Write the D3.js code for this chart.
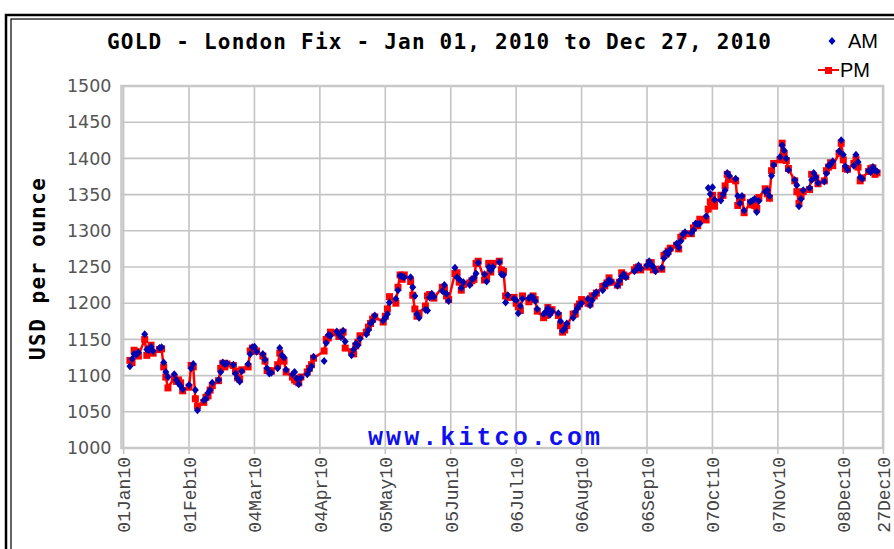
<!DOCTYPE html>
<html>
<head>
<meta charset="utf-8">
<script src="https://cdn.jsdelivr.net/npm/d3@7"></script>
<style>
    body { margin: 0; background: #fff; }
    svg { display: block; }
</style>
</head>
<body>
<script>
//gold fix data, trading days of 2010 (MM-DD)
var dates = [
    "01-04","01-05","01-06","01-07","01-08","01-11","01-12","01-13","01-14","01-15","01-18","01-19","01-20","01-21","01-22","01-25","01-26","01-27","01-28","01-29",
    "02-01","02-02","02-03","02-04","02-05","02-08","02-09","02-10","02-11","02-12","02-15","02-16","02-17","02-18","02-19","02-22","02-23","02-24","02-25","02-26",
    "03-01","03-02","03-03","03-04","03-05","03-08","03-09","03-10","03-11","03-12","03-15","03-16","03-17","03-18","03-19","03-22","03-23","03-24","03-25","03-26","03-29","03-30","03-31",
    "04-01","04-06","04-07","04-08","04-09","04-12","04-13","04-14","04-15","04-16","04-19","04-20","04-21","04-22","04-23","04-26","04-27","04-28","04-29","04-30",
    "05-04","05-05","05-06","05-07","05-10","05-11","05-12","05-13","05-14","05-17","05-18","05-19","05-20","05-21","05-24","05-25","05-26","05-27","05-28",
    "06-01","06-02","06-03","06-04","06-07","06-08","06-09","06-10","06-11","06-14","06-15","06-16","06-17","06-18","06-21","06-22","06-23","06-24","06-25","06-28","06-29","06-30",
    "07-01","07-02","07-05","07-06","07-07","07-08","07-09","07-12","07-13","07-14","07-15","07-16","07-19","07-20","07-21","07-22","07-23","07-26","07-27","07-28","07-29","07-30",
    "08-02","08-03","08-04","08-05","08-06","08-09","08-10","08-11","08-12","08-13","08-16","08-17","08-18","08-19","08-20","08-23","08-24","08-25","08-26","08-27","08-31",
    "09-01","09-02","09-03","09-06","09-07","09-08","09-09","09-10","09-13","09-14","09-15","09-16","09-17","09-20","09-21","09-22","09-23","09-24","09-27","09-28","09-29","09-30",
    "10-01","10-04","10-05","10-06","10-07","10-08","10-11","10-12","10-13","10-14","10-15","10-18","10-19","10-20","10-21","10-22","10-25","10-26","10-27","10-28","10-29",
    "11-01","11-02","11-03","11-04","11-05","11-08","11-09","11-10","11-11","11-12","11-15","11-16","11-17","11-18","11-19","11-22","11-23","11-24","11-25","11-26","11-29","11-30",
    "12-01","12-02","12-03","12-06","12-07","12-08","12-09","12-10","12-13","12-14","12-15","12-16","12-17","12-20","12-21","12-22","12-23","12-24"
];

var pmPrices = [
    1121,1118,1135,1133,1127,1150,1128,1137,1142,1131,1136,1137,1112,1098,1083,1097,1092,1094,1090,1079,
    1084,1114,1112,1068,1058,1063,1070,1072,1080,1086,1093,1110,1117,1112,1116,1114,1106,1097,1095,1108,
    1112,1134,1138,1134,1134,1127,1120,1107,1107,1106,1115,1131,1124,1120,1105,1098,1094,1092,1090,1098,1105,1110,1115,
    1124,1134,1150,1152,1160,1159,1154,1158,1160,1138,1133,1130,1141,1146,1155,1160,1167,1172,1178,1181,
    1174,1182,1192,1209,1200,1222,1239,1233,1239,1230,1211,1192,1182,1186,1196,1210,1212,1210,1207,
    1222,1220,1210,1205,1241,1242,1229,1218,1226,1228,1231,1233,1255,1258,1232,1234,1255,1243,1255,1258,1246,1244,
    1210,1208,1208,1200,1195,1190,1210,1202,1207,1210,1205,1189,1180,1183,1194,1188,1191,1183,1169,1160,1163,1169,
    1185,1185,1195,1199,1205,1200,1199,1210,1210,1214,1223,1224,1228,1235,1229,1225,1229,1242,1239,1237,1246,
    1249,1250,1246,1250,1256,1256,1246,1247,1247,1266,1268,1272,1276,1280,1275,1291,1293,1296,1296,1304,1307,1307,
    1316,1315,1330,1340,1349,1334,1349,1349,1362,1378,1371,1369,1335,1344,1346,1325,1339,1336,1335,1331,1346,
    1358,1351,1345,1383,1393,1398,1421,1406,1397,1386,1369,1354,1338,1348,1354,1357,1378,1375,1373,1365,1369,1383,
    1388,1394,1390,1407,1421,1398,1386,1385,1393,1399,1388,1369,1373,1382,1386,1387,1378,1380
];

var amPrices = [
    1113,1123,1130,1129,1132,1157,1136,1135,1140,1134,1138,1139,1118,1105,1098,1102,1094,1089,1086,1081,
    1087,1110,1116,1080,1052,1066,1068,1076,1080,1090,1094,1105,1118,1116,1117,1115,1103,1096,1092,1106,
    1116,1130,1139,1140,1133,1130,1122,1110,1103,1104,1110,1138,1128,1125,1108,1102,1105,1096,1088,1097,1102,1108,1113,
    1126,1120,1145,1156,1155,1161,1157,1153,1162,1147,1128,1136,1144,1142,1151,1157,1163,1172,1175,1183,
    1176,1180,1185,1201,1206,1218,1238,1237,1236,1236,1222,1210,1185,1180,1191,1190,1208,1213,1209,
    1217,1225,1213,1203,1249,1236,1233,1221,1229,1225,1233,1235,1241,1256,1240,1230,1250,1245,1250,1257,1240,1239,
    1201,1211,1206,1204,1186,1196,1206,1207,1209,1208,1203,1192,1185,1188,1193,1184,1189,1186,1175,1162,1165,1172,
    1180,1188,1193,1198,1200,1206,1197,1204,1212,1215,1218,1226,1227,1232,1230,1224,1231,1237,1240,1236,1244,
    1247,1252,1248,1252,1258,1253,1250,1244,1249,1262,1270,1268,1274,1282,1277,1286,1295,1298,1297,1301,1310,1309,
    1310,1320,1359,1351,1360,1343,1342,1350,1356,1380,1376,1372,1348,1338,1348,1328,1340,1342,1344,1326,1341,
    1354,1356,1348,1376,1391,1402,1418,1411,1400,1384,1370,1363,1334,1344,1356,1359,1370,1380,1374,1366,1368,1379,
    1390,1392,1396,1410,1425,1405,1389,1384,1390,1405,1395,1374,1372,1383,1381,1388,1384,1382
];

var yTicks = [1000, 1050, 1100, 1150, 1200, 1250, 1300, 1350, 1400, 1450, 1500];
var xTickDates = ["2010-01-01","2010-02-01","2010-03-04","2010-04-04","2010-05-05","2010-06-05",
                  "2010-07-06","2010-08-06","2010-09-06","2010-10-07","2010-11-07","2010-12-08","2010-12-27"];

var width = 894,
    height = 549;

var svg = d3.select("body")
    .append("svg")
    .attr("width", width)
    .attr("height", height);

var parseDay = d3.timeParse("%Y-%m-%d"),
    tickFmt = d3.timeFormat("%d%b%y");

var data = dates.map(function(d, i){
    return {date: parseDay("2010-" + d), am: amPrices[i], pm: pmPrices[i]};
});

//scales
var x = d3.scaleTime()
    .domain([parseDay("2010-01-01"), parseDay("2010-12-27")])
    .range([123.6, 883.4]);

var y = d3.scaleLinear()
    .domain([1000, 1500])
    .range([448, 86]);

var plotLeft = 121.5, plotRight = 883, plotTop = 86, plotBottom = 448;

//double outer frame
svg.append("rect")
    .attr("x", 6).attr("y", 15)
    .attr("width", 900).attr("height", 560)
    .attr("fill", "none").attr("stroke", "#000").attr("stroke-width", 2.5);
svg.append("rect")
    .attr("x", 11).attr("y", 19)
    .attr("width", 900).attr("height", 560)
    .attr("fill", "none").attr("stroke", "#000").attr("stroke-width", 1.2);

//gridlines
svg.append("g")
    .selectAll("line.hgrid")
    .data(yTicks)
    .enter()
    .append("line")
    .attr("x1", plotLeft).attr("x2", plotRight)
    .attr("y1", function(d){ return y(d); })
    .attr("y2", function(d){ return y(d); })
    .attr("stroke", "#c4c4c4").attr("stroke-width", 1.6);

svg.append("g")
    .selectAll("line.vgrid")
    .data(xTickDates)
    .enter()
    .append("line")
    .attr("x1", function(d){ return x(parseDay(d)); })
    .attr("x2", function(d){ return x(parseDay(d)); })
    .attr("y1", plotTop).attr("y2", plotBottom + 6)
    .attr("stroke", "#c4c4c4").attr("stroke-width", 1.6);

//plot frame
svg.append("rect")
    .attr("x", plotLeft).attr("y", plotTop)
    .attr("width", plotRight - plotLeft).attr("height", plotBottom - plotTop)
    .attr("fill", "none").attr("stroke", "#c8c8c8").attr("stroke-width", 2.5);

//y axis labels
var yAxis = d3.axisLeft(y)
    .tickValues(yTicks)
    .tickFormat(d3.format("d"))
    .tickSize(0)
    .tickPadding(10);
var yG = svg.append("g")
    .attr("transform", "translate(" + plotLeft + ",0)")
    .call(yAxis);
yG.select(".domain").remove();
yG.selectAll("text")
    .attr("font-family", "DejaVu Sans, Verdana, sans-serif")
    .attr("font-size", 17.5)
    .attr("fill", "#555");

//x axis labels (rotated)
var xAxis = d3.axisBottom(x)
    .tickValues(xTickDates.map(parseDay))
    .tickFormat(tickFmt)
    .tickSize(0);
var xG = svg.append("g")
    .attr("transform", "translate(0," + plotBottom + ")")
    .call(xAxis);
xG.select(".domain").remove();
xG.selectAll("text")
    .attr("font-family", "Liberation Mono, DejaVu Sans Mono, monospace")
    .attr("font-size", 18)
    .attr("fill", "#444")
    .attr("text-anchor", "end")
    .attr("dy", "0.35em")
    .attr("transform", "translate(0,9) rotate(-90)")
    .attr("x", 0).attr("y", 0);

//watermark
svg.append("text")
    .attr("x", 368).attr("y", 445)
    .attr("textLength", 232)
    .attr("font-family", "Liberation Mono, DejaVu Sans Mono, monospace")
    .attr("font-weight", "bold")
    .attr("font-size", 25)
    .attr("fill", "#1010ee")
    .text("www.kitco.com");

//PM line and squares
var line = d3.line()
    .x(function(d){ return x(d.date); })
    .y(function(d){ return y(d.pm); });

svg.append("path")
    .datum(data)
    .attr("d", line)
    .attr("fill", "none")
    .attr("stroke", "#ff0000")
    .attr("stroke-width", 2.5);

svg.selectAll(".pm")
    .data(data)
    .enter()
    .append("rect")
    .attr("class", "pm")
    .attr("x", function(d){ return x(d.date) - 3.5; })
    .attr("y", function(d){ return y(d.pm) - 3.5; })
    .attr("width", 7).attr("height", 7)
    .attr("fill", "#ff0000");

//AM markers
var diamond = "M0,-4L3.5,0L0,4L-3.5,0Z";
svg.selectAll(".am")
    .data(data)
    .enter()
    .append("path")
    .attr("class", "am")
    .attr("d", diamond)
    .attr("transform", function(d){ return "translate(" + x(d.date) + "," + y(d.am) + ")"; })
    .attr("fill", "#0000b0");

//title
svg.append("text")
    .attr("x", 107).attr("y", 49)
    .attr("textLength", 664)
    .attr("font-family", "DejaVu Sans Mono, monospace")
    .attr("font-weight", "bold")
    .attr("font-size", 21)
    .attr("fill", "#000")
    .text("GOLD - London Fix - Jan 01, 2010 to Dec 27, 2010");

//y title
svg.append("text")
    .attr("transform", "translate(45,269) rotate(-90)")
    .attr("text-anchor", "middle")
    .attr("textLength", 182)
    .attr("font-family", "DejaVu Sans Mono, monospace")
    .attr("font-weight", "bold")
    .attr("font-size", 21)
    .attr("fill", "#000")
    .text("USD per ounce");

//legend
svg.append("path")
    .attr("d", diamond)
    .attr("transform", "translate(832,41)")
    .attr("fill", "#0000c0");
svg.append("text")
    .attr("x", 848).attr("y", 48)
    .attr("font-family", "Liberation Sans, Arial, sans-serif")
    .attr("font-size", 20)
    .attr("fill", "#000")
    .text("AM");

svg.append("line")
    .attr("x1", 818).attr("x2", 839)
    .attr("y1", 70).attr("y2", 70)
    .attr("stroke", "#ff0000").attr("stroke-width", 2);
svg.append("rect")
    .attr("x", 825).attr("y", 67)
    .attr("width", 7).attr("height", 7)
    .attr("fill", "#ff0000");
svg.append("text")
    .attr("x", 840).attr("y", 77)
    .attr("font-family", "Liberation Sans, Arial, sans-serif")
    .attr("font-size", 20)
    .attr("fill", "#000")
    .text("PM");
</script>
</body>
</html>
